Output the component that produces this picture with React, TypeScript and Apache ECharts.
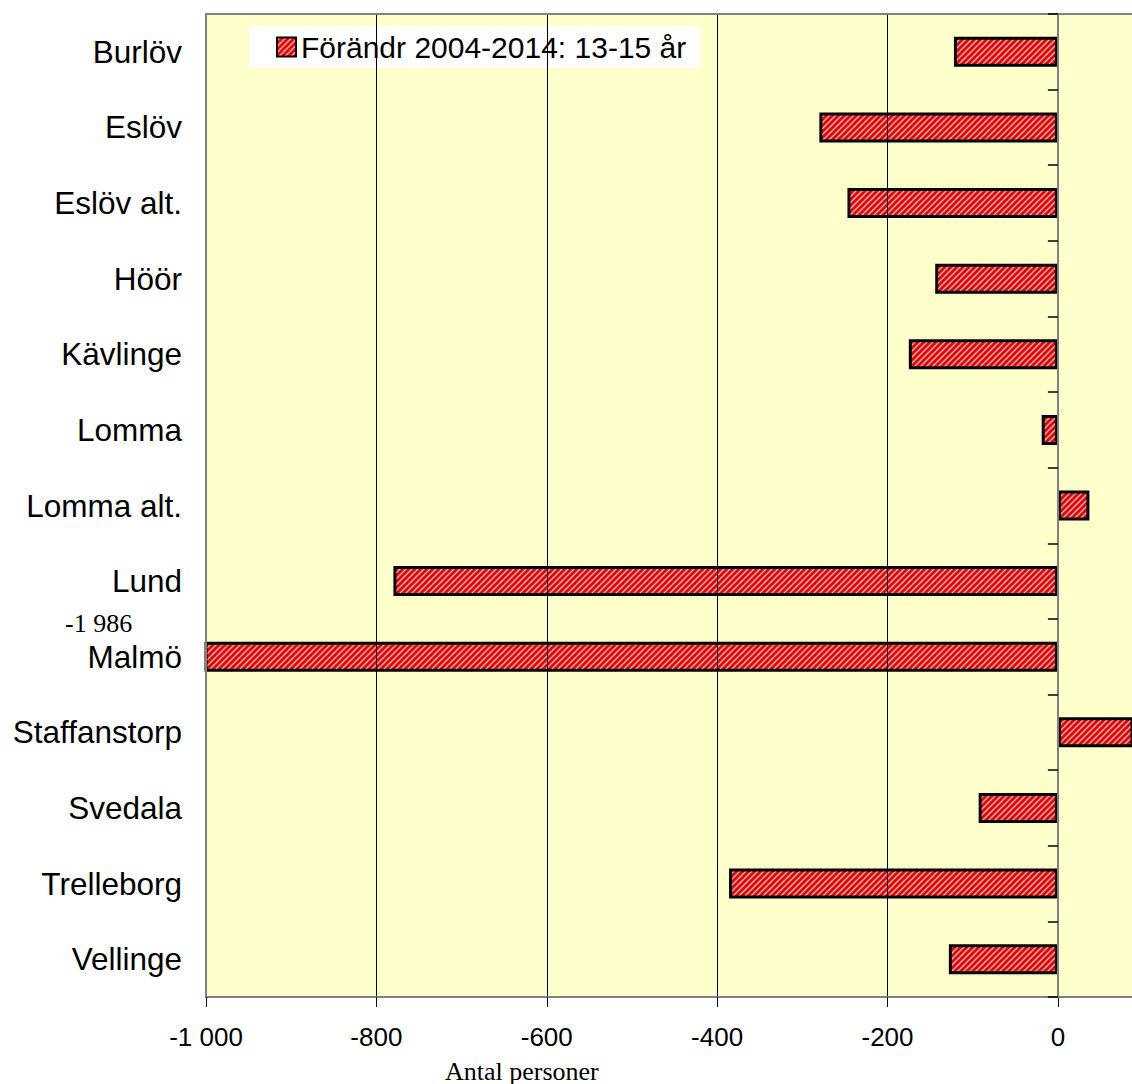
import React, { useEffect, useRef } from "react";
import * as echarts from "echarts";

const categories = [
  "Burlöv",
  "Eslöv",
  "Eslöv alt.",
  "Höör",
  "Kävlinge",
  "Lomma",
  "Lomma alt.",
  "Lund",
  "Malmö",
  "Staffanstorp",
  "Svedala",
  "Trelleborg",
  "Vellinge",
];
const values = [-122, -280, -247, -144, -175, -19, 37, -780, -1986, 120, -93, -386, -128];
const xMin = -1000;
const xMax = 87;
const xStep = 200;
const seriesName = "Förändr 2004-2014: 13-15 år";
const axisTitle = "Antal personer";
const outlierLabel = "-1 986";

const SANS = "'Liberation Sans', Arial, sans-serif";
const SERIF = "'Liberation Serif', 'Times New Roman', serif";

function makePattern() {
  const s = 6;
  const c = document.createElement("canvas");
  c.width = s;
  c.height = s;
  const ctx = c.getContext("2d")!;
  ctx.fillStyle = "#fff0f0";
  ctx.fillRect(0, 0, s, s);
  ctx.strokeStyle = "#f00000";
  ctx.lineWidth = 3.1;
  ctx.beginPath();
  ctx.moveTo(0, s);
  ctx.lineTo(s, 0);
  ctx.moveTo(-s / 2, s / 2);
  ctx.lineTo(s / 2, -s / 2);
  ctx.moveTo(s / 2, s * 1.5);
  ctx.lineTo(s * 1.5, s / 2);
  ctx.stroke();
  return c;
}

function fmt(v: number) {
  if (v % xStep !== 0) return "";
  const neg = v < 0;
  const a = Math.abs(v);
  let s = String(a);
  if (a >= 1000) s = s.slice(0, s.length - 3) + " " + s.slice(s.length - 3);
  return (neg ? "-" : "") + s;
}

export default function App() {
  const ref = useRef<HTMLDivElement>(null);
  useEffect(() => {
    if (!ref.current) return;
    const chart = echarts.init(ref.current, null, { renderer: "svg" });
    const pattern = { image: makePattern(), repeat: "repeat" } as any;
    chart.setOption({
      animation: false,
      backgroundColor: "#ffffff",
      textStyle: { fontFamily: SANS },
      grid: { left: 206, right: 0, top: 14, bottom: 87, backgroundColor: "#FFFFCC", show: true, borderWidth: 0 },
      legend: {
        left: 249,
        top: 26,
        backgroundColor: "#ffffff",
        padding: [6, 14, 6, 27],
        itemWidth: 19,
        itemHeight: 19,
        icon: "rect",
        itemStyle: { borderColor: "#000", borderWidth: 2 },
        textStyle: { fontSize: 30, color: "#000", fontFamily: SANS },
        data: [seriesName],
      },
      xAxis: [
        {
          type: "value",
          position: "bottom",
          min: xMin,
          max: xMax,
          interval: xStep,
          axisLine: { show: true, onZero: false, lineStyle: { color: "#808080", width: 2 } },
          axisTick: { show: true, length: 10, lineStyle: { color: "#000", width: 1 } },
          axisLabel: { fontSize: 26, color: "#000", margin: 27, formatter: fmt, fontFamily: SANS, showMaxLabel: false },
          splitLine: { show: true, lineStyle: { color: "#000", width: 1 } },
          z: 5,
        },
        {
          type: "value",
          position: "top",
          min: xMin,
          max: xMax,
          interval: xStep,
          axisLine: { show: true, onZero: false, lineStyle: { color: "#808080", width: 2 } },
          axisTick: { show: false },
          axisLabel: { show: false },
          splitLine: { show: false },
          z: 5,
        },
      ],
      yAxis: [
        {
          type: "category",
          data: categories,
          inverse: true,
          position: "left",
          axisLine: { show: true, onZero: false, lineStyle: { color: "#808080", width: 2 } },
          axisTick: { show: false },
          axisLabel: { fontSize: 31.5, color: "#000", margin: 24, fontFamily: SANS },
          splitLine: { show: false },
          z: 5,
        },
        {
          type: "category",
          data: categories,
          inverse: true,
          position: "left",
          axisLine: { show: true, onZero: true, lineStyle: { color: "#808080", width: 2 } },
          axisTick: { show: true, length: 10, inside: false, lineStyle: { color: "#000", width: 1.5 } },
          axisLabel: { show: false },
          splitLine: { show: false },
          z: 6,
        },
      ],
      series: [
        {
          name: seriesName,
          type: "bar",
          xAxisIndex: 0,
          yAxisIndex: 0,
          data: values,
          barWidth: 30,
          clip: true,
          itemStyle: { color: pattern, borderColor: "#000", borderWidth: 3 },
        },
      ],
      graphic: [
        {
          type: "text",
          left: 65,
          top: 610,
          style: { text: outlierLabel, fontSize: 26, fontFamily: SERIF, fill: "#000" },
        },
        {
          type: "text",
          left: 445,
          top: 1058,
          style: { text: axisTitle, fontSize: 26, fontFamily: SERIF, fill: "#000" },
        },
      ],
    });
    return () => chart.dispose();
  }, []);
  return (
    <div style={{ position: "fixed", left: 0, top: 0, width: 1132, height: 1084, overflow: "hidden", background: "#fff" }}>
      <div ref={ref} style={{ width: 1132, height: 1084 }} />
    </div>
  );
}
